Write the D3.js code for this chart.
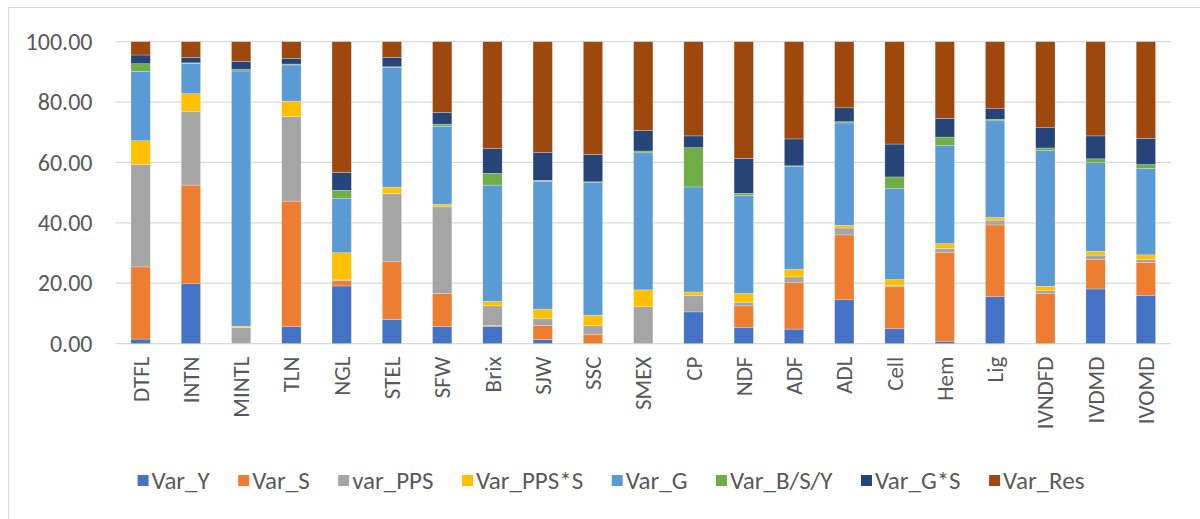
<!DOCTYPE html>
<html>
<head>
<meta charset="utf-8">
<script src="https://cdn.jsdelivr.net/npm/d3@7/dist/d3.min.js"></script>
<style>
  html, body { margin: 0; padding: 0; background: #fff; }
  svg { display: block; }
  text { font-family: Carlito, "Liberation Sans", Arial, sans-serif; fill: #595959; }
</style>
</head>
<body>
<svg id="chart" width="1200" height="519"></svg>
<script>
// Traits
const categories = ["DTFL","INTN","MINTL","TLN","NGL","STEL","SFW","Brix","SJW","SSC",
                    "SMEX","CP","NDF","ADF","ADL","Cell","Hem","Lig","IVNDFD","IVDMD","IVOMD"];

// Variance components (% of total) per trait
const varY    = [1.5, 19.8, 0.0, 5.6, 19.1, 8.0, 5.6, 5.6, 1.3, 0.0, 0.0, 10.5, 5.4, 4.8, 14.5, 4.9, 0.8, 15.5, 0.0, 18.1, 16.0];
const varS    = [23.9, 32.7, 0.1, 41.6, 1.7, 19.1, 11.0, 0.4, 4.7, 3.1, 0.0, 0.0, 7.1, 15.4, 21.5, 13.9, 29.3, 23.8, 16.5, 9.7, 10.9];
const varPPS  = [33.9, 24.3, 5.2, 28.0, 0.3, 22.6, 28.7, 6.5, 2.2, 2.8, 12.2, 5.5, 1.2, 1.9, 2.3, 0.5, 1.4, 1.6, 1.0, 1.5, 0.9];
const varPPSS = [7.9, 6.0, 0.5, 5.1, 9.0, 2.1, 0.8, 1.5, 3.2, 3.5, 5.6, 1.1, 2.9, 2.5, 0.9, 1.9, 1.6, 0.9, 1.5, 1.3, 1.6];
const varG    = [23.0, 10.0, 84.5, 12.0, 18.0, 39.7, 25.9, 38.5, 42.4, 43.9, 45.4, 34.8, 32.5, 34.0, 33.9, 30.2, 32.5, 32.0, 44.9, 29.3, 28.6];
const varBSY  = [2.5, 0.2, 0.5, 0.3, 2.7, 0.2, 0.7, 3.9, 0.3, 0.3, 0.6, 13.0, 0.7, 0.3, 0.4, 3.8, 2.8, 0.5, 0.9, 1.3, 1.3];
const varGS   = [2.9, 1.8, 2.7, 1.9, 5.9, 3.1, 3.9, 8.2, 9.2, 9.1, 6.8, 3.9, 11.5, 8.9, 4.6, 10.9, 6.2, 3.5, 6.7, 7.6, 8.7];
const varRes  = [4.4, 5.2, 6.5, 5.5, 43.3, 5.2, 23.4, 35.4, 36.7, 37.3, 29.4, 31.2, 38.7, 32.2, 21.9, 33.9, 25.4, 22.2, 28.5, 31.2, 32.0];

const seriesNames  = ["Var_Y", "Var_S", "var_PPS", "Var_PPS*S", "Var_G", "Var_B/S/Y", "Var_G*S", "Var_Res"];
const seriesValues = [varY, varS, varPPS, varPPSS, varG, varBSY, varGS, varRes];
const seriesColors = ["#4472C4", "#ED7D31", "#A5A5A5", "#FFC000", "#5B9BD5", "#70AD47", "#264478", "#9E480E"];
const yTicks = [0, 20, 40, 60, 80, 100];

const FONT = 'Carlito, "Liberation Sans", Arial, sans-serif';
const svg = d3.select("#chart");

// outer frame
svg.append("rect")
  .attr("x", 8.5).attr("y", 7.5)
  .attr("width", 1200).attr("height", 520)
  .attr("fill", "none").attr("stroke", "#d9d9d9").attr("stroke-width", 1);

const plot = { left: 115.5, right: 1171, top: 41.7, bottom: 343.6 };

const x = d3.scaleBand()
  .domain(categories)
  .range([plot.left, plot.right])
  .paddingInner(0.615)
  .paddingOuter(0.3075);

const y = d3.scaleLinear()
  .domain([0, 100])
  .range([plot.bottom, plot.top]);

// gridlines
svg.append("g")
  .selectAll("line")
  .data(yTicks)
  .join("line")
  .attr("x1", plot.left).attr("x2", plot.right)
  .attr("y1", d => y(d)).attr("y2", d => y(d))
  .attr("stroke", "#d9d9d9").attr("stroke-width", 1.3);

// y axis labels
const yAxis = d3.axisLeft(y).tickValues(yTicks).tickFormat(d3.format(".2f")).tickSize(0).tickPadding(0);
svg.append("g")
  .attr("transform", `translate(${plot.left - 23},0)`)
  .call(yAxis)
  .call(g => g.select(".domain").remove())
  .call(g => g.selectAll("text")
      .style("font-family", FONT)
      .style("font-size", "24px").attr("fill", "#595959"));

// stacked data
const rows = categories.map((c, i) => {
  const r = { cat: c };
  seriesNames.forEach((s, k) => { r[s] = seriesValues[k][i]; });
  return r;
});
const stacked = d3.stack().keys(seriesNames)(rows);

svg.append("g")
  .selectAll("g")
  .data(stacked)
  .join("g")
  .attr("fill", (d, i) => seriesColors[i])
  .selectAll("rect")
  .data(d => d)
  .join("rect")
  .attr("x", d => x(d.data.cat))
  .attr("width", x.bandwidth())
  .attr("y", d => y(d[1]))
  .attr("height", d => Math.max(0, y(d[0]) - y(d[1])))
  .attr("stroke", "#ffffff").attr("stroke-width", 0.5).attr("stroke-opacity", 0.5);

// category labels (rotated)
const xAxis = d3.axisBottom(x).tickSize(0).tickPadding(0);
svg.append("g")
  .attr("transform", `translate(0,${plot.bottom})`)
  .call(xAxis)
  .call(g => g.select(".domain").remove())
  .call(g => g.selectAll("text")
      .style("font-family", FONT)
      .style("font-size", "23px").attr("fill", "#595959")
      .attr("text-anchor", "end")
      .attr("transform", "rotate(-90)")
      .attr("x", -13).attr("y", 0).attr("dy", "0.35em"));

// legend
const legend = svg.append("g").attr("class", "legend");
const items = legend.selectAll("g").data(seriesNames).join("g");
items.append("rect")
  .attr("width", 11).attr("height", 11)
  .attr("y", -5.5)
  .attr("fill", (d, i) => seriesColors[i]);
items.append("text")
  .attr("x", 14).attr("dy", "0.35em")
  .style("font-size", "25px")
  .text(d => d);

const gap = 28.5;
let cursor = 0;
const positions = [];
items.each(function () {
  positions.push(cursor);
  const w = this.querySelector("text").getComputedTextLength();
  cursor += 14 + w + gap;
});
const total = cursor - gap;
const startX = 611 - total / 2;
items.attr("transform", (d, i) => `translate(${startX + positions[i]},480.5)`);
</script>
</body>
</html>
